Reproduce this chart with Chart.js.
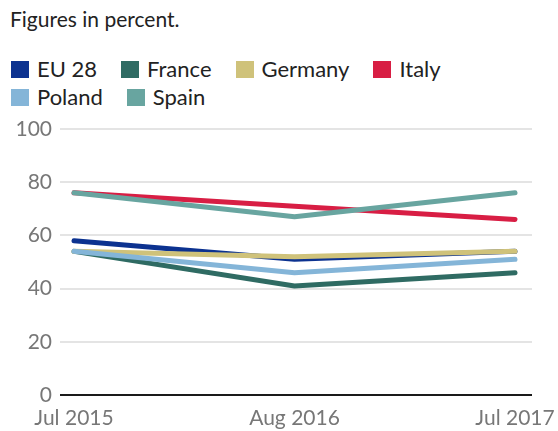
<!DOCTYPE html>
<html>
<head>
<meta charset="utf-8">
<script src="https://cdn.jsdelivr.net/npm/chart.js@4/dist/chart.umd.min.js"></script>
<style>
  body { margin: 0; background: #fff; font-family: Lato, sans-serif; }
  #wrap { position: relative; width: 558px; height: 431px; }
  #title { position: absolute; left: 10px; top: 7px; font-size: 21px; line-height: 24px; color: #222; }
  #legend { position: absolute; left: 11px; top: 55px; width: 540px; display: flex; flex-wrap: wrap; }
  .item { display: flex; align-items: center; margin-right: 24px; font-size: 22px; line-height: 28px; color: #222; }
  .box { width: 18px; height: 17px; margin-right: 8px; }
  canvas { position: absolute; left: 0; top: 0; }
</style>
</head>
<body>
<div id="wrap">
  <div id="title">Figures in percent.</div>
  <div id="legend"></div>
  <canvas id="chart" width="558" height="431"></canvas>
</div>
<script>
const X_LABELS = ['Jul 2015', 'Aug 2016', 'Jul 2017'];
const Y_TICKS = [0, 20, 40, 60, 80, 100];

const SERIES_NAMES = ['EU 28', 'France', 'Germany', 'Italy', 'Poland', 'Spain'];
const SERIES_COLORS = ['#0c3290', '#2f6b63', '#cfc27a', '#d81e44', '#84b5d8', '#68a5a0'];

const EU28 = [58, 51, 54];
const FRANCE = [54, 41, 46];
const GERMANY = [54, 52, 54];
const ITALY = [76, 71, 66];
const POLAND = [54, 46, 51];
const SPAIN = [76, 67, 76];

const SERIES_VALUES = [EU28, FRANCE, GERMANY, ITALY, POLAND, SPAIN];

// html legend
const legend = document.getElementById('legend');
SERIES_NAMES.forEach((name, i) => {
  const item = document.createElement('div');
  item.className = 'item';
  const box = document.createElement('span');
  box.className = 'box';
  box.style.background = SERIES_COLORS[i];
  item.appendChild(box);
  item.appendChild(document.createTextNode(name));
  legend.appendChild(item);
});

const datasets = SERIES_NAMES.map((name, i) => ({
  label: name,
  data: SERIES_VALUES[i].map((v, x) => ({ x, y: v })),
  borderColor: SERIES_COLORS[i],
  backgroundColor: SERIES_COLORS[i],
  borderWidth: 5,
  borderCapStyle: 'round',
  borderJoinStyle: 'round',
  pointRadius: 0,
  tension: 0,
  // later series on top
  order: SERIES_NAMES.length - i,
}));

new Chart(document.getElementById('chart').getContext('2d'), {
  type: 'line',
  data: { datasets },
  options: {
    responsive: false,
    animation: false,
    layout: { padding: { top: 129, left: 17, right: 26, bottom: 0 } },
    plugins: {
      legend: { display: false },
      tooltip: { enabled: false },
    },
    scales: {
      x: {
        type: 'linear',
        min: -0.0635,
        max: 2.077,
        grid: { display: false, drawTicks: false },
        border: { display: false },
        afterFit: axis => {
          axis.height = 36;
          // labels may hang past the plot edges
          axis.paddingLeft = 0;
          axis.paddingRight = 0;
        },
        ticks: {
          stepSize: 1,
          includeBounds: false,
          autoSkip: false,
          maxRotation: 0,
          padding: 11,
          color: '#777',
          font: { family: 'Lato', size: 21 },
          callback: v => X_LABELS[v] ?? '',
        },
      },
      y: {
        min: Y_TICKS[0],
        max: Y_TICKS[Y_TICKS.length - 1],
        border: { display: false },
        grid: {
          drawTicks: false,
          color: c => (c.tick.value === 0 ? '#1a1a1a' : '#e4e4e4'),
          lineWidth: 2,
        },
        afterBuildTicks: axis => { axis.ticks = Y_TICKS.map(value => ({ value })); },
        afterFit: axis => { axis.width = 43; },
        ticks: {
          padding: 8,
          color: '#777',
          font: { family: 'Lato', size: 21 },
        },
      },
    },
  },
});
</script>
</body>
</html>
